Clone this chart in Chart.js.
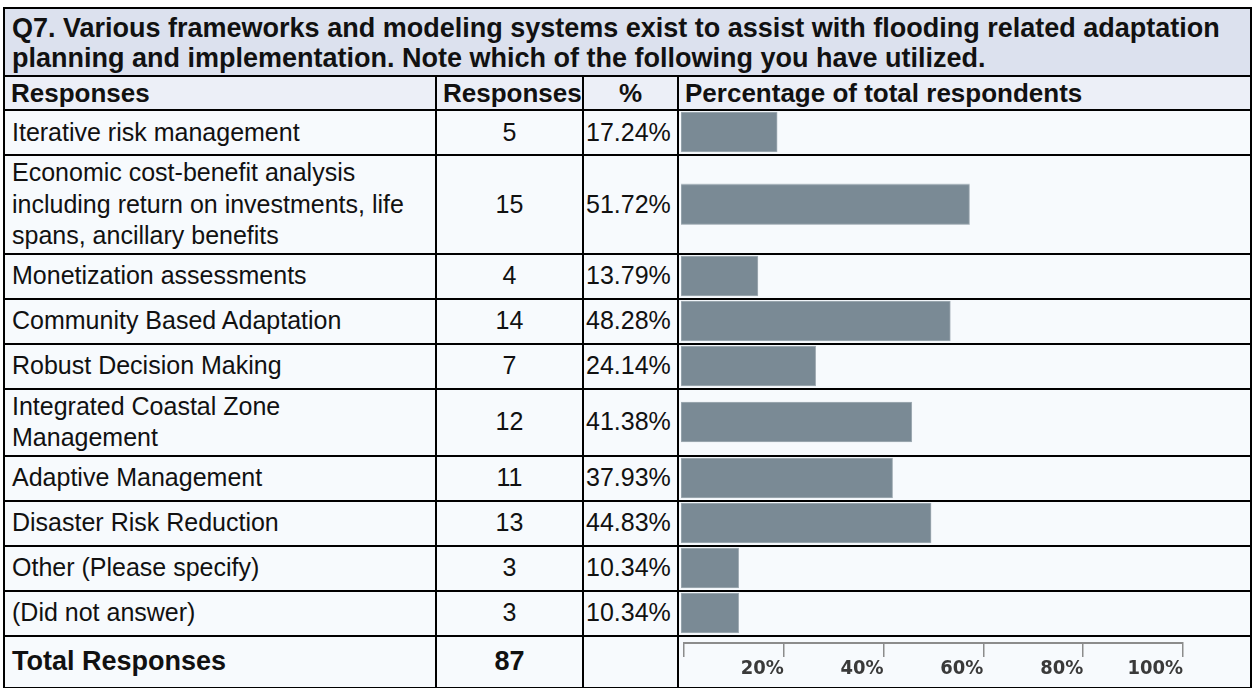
<!DOCTYPE html>
<html>
<head>
<meta charset="utf-8">
<script src="https://cdn.jsdelivr.net/npm/chart.js@4.4.1/dist/chart.umd.min.js"></script>
<style>
    body { margin: 0; background: #fff; font-family: "Liberation Sans", Arial, sans-serif; color: #111; }
    table { position: absolute; left: 3px; top: 7px; width: 1249px; border-collapse: collapse; table-layout: fixed; border: 2px solid #000; font-size: 25px; }
    td { border: 2px solid #000; padding: 1px 7px; height: 41px; line-height: 31.5px; background: #f7fafd; vertical-align: middle; }
    .title td { background: #dce1ee; font-weight: bold; font-size: 27px; line-height: 30px; height: auto; padding: 4px 7px 2px 7px; border-bottom: 1px solid #555; white-space: nowrap; }
    .head td { background: #eceff7; font-weight: bold; font-size: 26px; line-height: 30px; height: auto; padding: 1px 6px 1px 6px; }
    .num { text-align: center; }
    .pct { padding-left: 2px; padding-right: 0; }
    .bar { position: relative; padding: 0; }
    .bar div { position: absolute; left: 0; top: 0; right: 0; bottom: 0; }
    .total td { font-weight: bold; font-size: 27px; height: 48px; }
    .axis div { position: absolute; left: 0; top: 0; right: 0; bottom: auto; height: 46px; }
</style>
</head>
<body>
<table id="tbl">
    <colgroup><col style="width:432px"><col style="width:147px"><col style="width:95px"><col></colgroup>
    <tr class="title"><td colspan="4">Q7. Various frameworks and modeling systems exist to assist with flooding related adaptation<br>planning and implementation. Note which of the following you have utilized.</td></tr>
    <tr class="head"><td>Responses</td><td class="num">Responses</td><td class="num">%</td><td>Percentage of total respondents</td></tr>
</table>
<script>
// survey answers
const categories = [
    'Iterative risk management',
    'Economic cost-benefit analysis\nincluding return on investments, life\nspans, ancillary benefits',
    'Monetization assessments',
    'Community Based Adaptation',
    'Robust Decision Making',
    'Integrated Coastal Zone\nManagement',
    'Adaptive Management',
    'Disaster Risk Reduction',
    'Other (Please specify)',
    '(Did not answer)'
];
const counts = [5, 15, 4, 14, 7, 12, 11, 13, 3, 3];
const percents = [17.24, 51.72, 13.79, 48.28, 24.14, 41.38, 37.93, 44.83, 10.34, 10.34];
const totalLabel = 'Total Responses';
const totalCount = 87;
const axisTicks = [0, 20, 40, 60, 80, 100];

const tbl = document.getElementById('tbl');

categories.forEach((cat, i) => {
    const tr = document.createElement('tr');
    tr.innerHTML = '<td style="white-space:pre-line"></td><td class="num"></td><td class="pct"></td><td class="bar"><div><canvas></canvas></div></td>';
    tr.children[0].textContent = cat;
    tr.children[1].textContent = counts[i];
    tr.children[2].textContent = percents[i].toFixed(2) + '%';
    tbl.appendChild(tr);

    new Chart(tr.querySelector('canvas').getContext('2d'), {
        type: 'bar',
        data: {
            labels: [cat],
            datasets: [{
                data: [percents[i]],
                backgroundColor: '#7a8a95',
                borderColor: '#a3aeb6',
                borderWidth: 1,
                borderSkipped: false,
                barThickness: 40
            }]
        },
        options: {
            indexAxis: 'y',
            responsive: true,
            maintainAspectRatio: false,
            animation: false,
            events: [],
            layout: { padding: { left: 2, right: 0, top: 0, bottom: 1 } },
            plugins: { legend: { display: false }, tooltip: { enabled: false } },
            scales: {
                x: { display: false, min: 0, max: 102 },
                y: { display: false }
            }
        }
    });
});

// total row with the percent axis
const trTotal = document.createElement('tr');
trTotal.className = 'total';
trTotal.innerHTML = '<td></td><td class="num"></td><td></td><td class="bar axis"><div><canvas></canvas></div></td>';
trTotal.children[0].textContent = totalLabel;
trTotal.children[1].textContent = totalCount;
tbl.appendChild(trTotal);

new Chart(trTotal.querySelector('canvas').getContext('2d'), {
    type: 'bar',
    data: { labels: [''], datasets: [{ data: [] }] },
    options: {
        indexAxis: 'y',
        responsive: true,
        maintainAspectRatio: false,
        animation: false,
        events: [],
        layout: { padding: { left: 5, right: 67, top: 0, bottom: 0 } },
        plugins: { legend: { display: false }, tooltip: { enabled: false } },
        scales: {
            x: {
                position: 'bottom',
                min: axisTicks[0],
                max: axisTicks[axisTicks.length - 1],
                afterBuildTicks: (scale) => { scale.ticks = axisTicks.map(v => ({ value: v })); },
                afterFit: (scale) => { scale.height = 40; },
                border: { display: true, color: '#8c8c8c', width: 2 },
                grid: { display: true, drawOnChartArea: false, drawTicks: true, tickLength: 14, color: '#8c8c8c', lineWidth: 1.5 },
                ticks: {
                    align: 'end',
                    padding: 0,
                    color: '#3a3a3a',
                    font: { family: '"Liberation Sans Narrow", "DejaVu Sans Condensed", sans-serif', weight: 'bold', size: 20 },
                    callback: (v) => v === 0 ? '' : v + '%'
                }
            },
            y: { display: false }
        }
    }
});
</script>
</body>
</html>
